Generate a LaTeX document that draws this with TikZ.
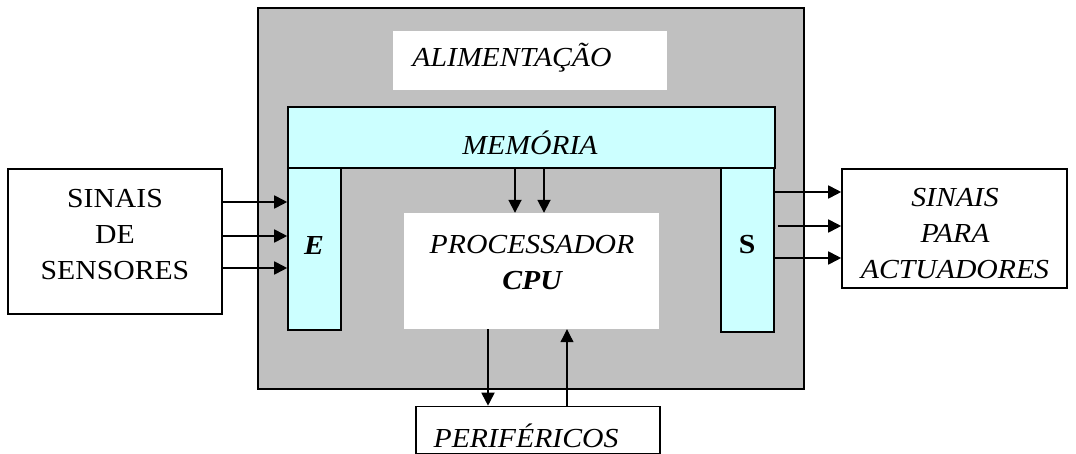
\documentclass[tikz,border=0pt]{standalone}
\usepackage{fontspec}
\setmainfont{Liberation Serif}[FakeStretch=1.08]
\usetikzlibrary{arrows.meta}
\definecolor{casing}{HTML}{C0C0C0}
\definecolor{memcyan}{HTML}{CCFFFF}
\tikzset{
  framed/.style={draw=black, line width=1.6pt, inner sep=0pt},
  plain/.style={inner sep=0pt},
  txt/.style={inner sep=0pt, align=center, font=\fontsize{27.5}{36}\selectfont},
  arr/.style={line width=1.8pt, -{Triangle[length=13pt,width=13pt]}},
  thinarr/.style={line width=1.1pt, -{Triangle[length=13pt,width=13pt]}},
}
\begin{document}
\begin{tikzpicture}[x=1pt, y=-1pt]
\useasboundingbox (0,0) rectangle (1076,454);

% outer casing of the controller
\node[framed, fill=casing, minimum width=546pt, minimum height=381pt] (casing) at (531,198.5) {};

% power supply panel
\node[plain, fill=white, minimum width=274pt, minimum height=59pt] (alim) at (530,60.5) {};
\node[txt] (alimtxt) at (512,58) {\itshape ALIMENTAÇÃO};

% memory bar with input and output columns
\node[framed, fill=memcyan, minimum width=487pt, minimum height=61pt] (mem) at (531.5,137.5) {};
\node[txt] (memtxt) at (530,143) {\itshape MEMÓRIA};
\node[framed, fill=memcyan, minimum width=53pt, minimum height=162pt] (E) at (314.5,249) {};
\node[txt] (Etxt) at (314,245) {\bfseries\itshape E};
\node[framed, fill=memcyan, minimum width=53pt, minimum height=164pt] (S) at (747.5,250) {};
\node[txt] (Stxt) at (747,245) {\bfseries S};

% processor
\node[plain, fill=white, minimum width=255pt, minimum height=116pt] (cpu) at (531.5,271) {};
\node[txt] (cputxt) at (532,263) {\itshape PROCESSADOR\\\bfseries\itshape CPU};

% external blocks
\node[framed, fill=white, minimum width=214pt, minimum height=145pt] (sens) at (115,241.5) {};
\node[txt] (senstxt) at (115,235) {SINAIS\\DE\\SENSORES};
\node[framed, fill=white, minimum width=225pt, minimum height=119pt] (act) at (954.5,228.5) {};
\node[txt] (acttxt) at (955,234) {\itshape SINAIS\\\itshape PARA\\\itshape ACTUADORES};
\node[framed, fill=white, minimum width=244pt, minimum height=47pt] (peri) at (538,430) {};
\node[txt] (peritxt) at (526,436) {\itshape PERIFÉRICOS};

% input signals
\foreach \yy in {202,236,268}
  \draw[arr] (sens.east |- 0,\yy) -- (E.west |- 0,\yy);

% output signals
\draw[arr] (S.east |- 0,192) -- (act.west |- 0,192);
\draw[arr] ([xshift=3pt]S.east |- 0,226) -- (act.west |- 0,226);
\draw[arr] (S.east |- 0,258) -- (act.west |- 0,258);

% memory to processor
\draw[arr] (mem.south -| 515,0) -- (cpu.north -| 515,0);
\draw[arr] (mem.south -| 544,0) -- (cpu.north -| 544,0);

% processor and peripherals
\draw[arr] (cpu.south -| 488,0) -- (peri.north -| 488,0);
\draw[thinarr] (peri.north -| 567,0) -- (cpu.south -| 567,0);
\end{tikzpicture}
\end{document}
